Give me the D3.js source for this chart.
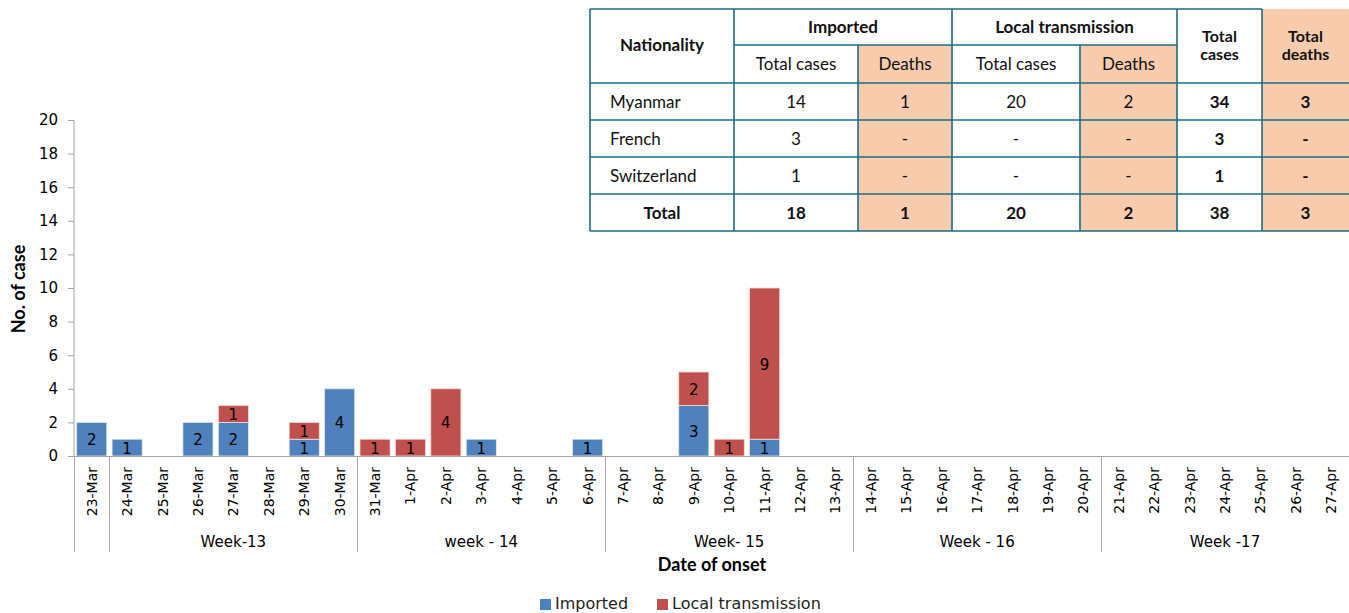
<!DOCTYPE html>
<html>
<head>
<meta charset="utf-8">
<script src="https://cdn.jsdelivr.net/npm/d3@7"></script>
<style>
  html, body { margin: 0; padding: 0; background: #fff; overflow: hidden; }
  svg { display: block; }
  .tick text, .daylbl, .weeklbl, .barlbl, .legend text { font-family: "DejaVu Sans", Verdana, sans-serif; }
  .tbl text { font-family: Lato, "Open Sans", sans-serif; }
</style>
</head>
<body>
<svg id="chart" width="1349" height="613"></svg>
<script>
// epi curve: onset dates, imported vs local cases per day
const dates = ["23-Mar","24-Mar","25-Mar","26-Mar","27-Mar","28-Mar","29-Mar","30-Mar",
  "31-Mar","1-Apr","2-Apr","3-Apr","4-Apr","5-Apr","6-Apr",
  "7-Apr","8-Apr","9-Apr","10-Apr","11-Apr","12-Apr","13-Apr",
  "14-Apr","15-Apr","16-Apr","17-Apr","18-Apr","19-Apr","20-Apr",
  "21-Apr","22-Apr","23-Apr","24-Apr","25-Apr","26-Apr","27-Apr"];
const imported = [2,1,0,2,2,0,1,4, 0,0,0,1,0,0,1, 0,0,3,0,1,0,0, 0,0,0,0,0,0,0, 0,0,0,0,0,0,0];
const local    = [0,0,0,0,1,0,1,0, 1,1,4,0,0,0,0, 0,0,2,1,9,0,0, 0,0,0,0,0,0,0, 0,0,0,0,0,0,0];
const yTicks = [0,2,4,6,8,10,12,14,16,18,20];

// week groups: [label, first date index, number of days]
const weeks = [["", 0, 1], ["Week-13", 1, 7], ["week - 14", 8, 7], ["Week- 15", 15, 7],
  ["Week - 16", 22, 7], ["Week -17", 29, 7]];

// summary table
const tblCols = ["Imported total cases", "Imported deaths", "Local total cases", "Local deaths", "Total cases", "Total deaths"];
const tblRows = ["Myanmar", "French", "Switzerland", "Total"];
const tblValues = [
  ["14", "1", "20", "2", "34", "3"],
  ["3", "-", "-", "-", "3", "-"],
  ["1", "-", "-", "-", "1", "-"],
  ["18", "1", "20", "2", "38", "3"],
];

const BLUE = "#4f81bd", RED = "#c0504d", AXIS = "#a6a6a6";
const PEACH = "#f8cbad", TEAL = "#1b6b86";

const svg = d3.select("#chart");

const x = d3.scaleBand().domain(dates).range([74, 1349]).paddingInner(0.15).paddingOuter(0.075);
const y = d3.scaleLinear().domain([0, 20]).range([456, 120]);
const step = x.step();
const edge = i => i === 0 ? 74 : x(dates[i]) - (step - x.bandwidth()) / 2;

// ── y axis ──
const yAxis = svg.append("g").attr("transform", "translate(74,0)")
  .call(d3.axisLeft(y).tickValues(yTicks).tickSize(6).tickPadding(10));
yAxis.selectAll("path, line").attr("stroke", AXIS);
yAxis.select(".domain").attr("d", "M0,120V456");
yAxis.selectAll("text").attr("font-size", 15).attr("fill", "#000");

svg.append("text").attr("transform", "translate(25,289) rotate(-90)")
  .attr("text-anchor", "middle").attr("font-family", "Lato, sans-serif")
  .attr("font-weight", "bold").attr("font-size", 18).text("No. of case");

// ── bars ──
const stack = dates.map((d, i) => ({ d, imp: imported[i], loc: local[i] }));
const g = svg.append("g");
g.selectAll("rect.imp").data(stack.filter(s => s.imp > 0)).join("rect")
  .attr("x", s => x(s.d)).attr("width", x.bandwidth())
  .attr("y", s => y(s.imp)).attr("height", s => y(0) - y(s.imp))
  .attr("fill", BLUE).attr("stroke", "#dfe8f3").attr("stroke-width", 0.8);
g.selectAll("rect.loc").data(stack.filter(s => s.loc > 0)).join("rect")
  .attr("x", s => x(s.d)).attr("width", x.bandwidth())
  .attr("y", s => y(s.imp + s.loc)).attr("height", s => y(s.imp) - y(s.imp + s.loc))
  .attr("fill", RED).attr("stroke", "#f3dcdc").attr("stroke-width", 0.8);

g.selectAll("text.bi").data(stack.filter(s => s.imp > 0)).join("text")
  .attr("class", "barlbl").attr("text-anchor", "middle").attr("font-size", 15)
  .attr("x", s => x(s.d) + x.bandwidth() / 2)
  .attr("y", s => (y(0) + y(s.imp)) / 2 + 6).text(s => s.imp);
g.selectAll("text.bl").data(stack.filter(s => s.loc > 0)).join("text")
  .attr("class", "barlbl").attr("text-anchor", "middle").attr("font-size", 15)
  .attr("x", s => x(s.d) + x.bandwidth() / 2)
  .attr("y", s => (y(s.imp) + y(s.imp + s.loc)) / 2 + 6).text(s => s.loc);

// ── x axis (two levels) ──
svg.append("line").attr("x1", 74).attr("x2", 1349).attr("y1", 456.5).attr("y2", 456.5)
  .attr("stroke", AXIS);
svg.selectAll("text.daylbl").data(dates).join("text").attr("class", "daylbl")
  .attr("transform", d => `translate(${x(d) + x.bandwidth() / 2 + 5},467) rotate(-90)`)
  .attr("text-anchor", "end").attr("font-size", 14).text(d => d);

const seps = weeks.map(w => edge(w[1])).concat([1349]);
svg.selectAll("line.sep").data(seps).join("line")
  .attr("x1", d => Math.round(d) + 0.5).attr("x2", d => Math.round(d) + 0.5)
  .attr("y1", 456).attr("y2", 552).attr("stroke", AXIS);
svg.selectAll("text.weeklbl").data(weeks).join("text").attr("class", "weeklbl")
  .attr("x", w => (edge(w[1]) + (w[1] + w[2] < dates.length ? edge(w[1] + w[2]) : 1349)) / 2)
  .attr("y", 547).attr("text-anchor", "middle").attr("font-size", 15).text(w => w[0]);

svg.append("text").attr("x", 712).attr("y", 571).attr("text-anchor", "middle")
  .attr("font-family", "Lato, sans-serif").attr("font-weight", "bold").attr("font-size", 18)
  .text("Date of onset");

// ── legend ──
const legend = svg.append("g").attr("class", "legend");
[["Imported", BLUE, 540], ["Local transmission", RED, 657]].forEach(([t, c, lx]) => {
  legend.append("rect").attr("x", lx).attr("y", 599).attr("width", 11).attr("height", 11).attr("fill", c);
  legend.append("text").attr("x", lx + 15).attr("y", 609).attr("font-size", 16).attr("fill", "#222").text(t);
});

// ── summary table ──
const colX = [590, 734, 858, 952, 1080, 1177, 1262, 1349];
const rowY = [9, 45, 83, 120, 157, 194, 231];
const tbl = svg.append("g").attr("class", "tbl");
const peachCols = [2, 4];
peachCols.forEach(c => tbl.append("rect").attr("x", colX[c]).attr("y", rowY[1])
  .attr("width", colX[c + 1] - colX[c]).attr("height", rowY[6] - rowY[1]).attr("fill", PEACH));
tbl.append("rect").attr("x", colX[6]).attr("y", rowY[0])
  .attr("width", colX[7] - colX[6]).attr("height", rowY[6] - rowY[0]).attr("fill", PEACH);

const ln = (x1, y1, x2, y2) => tbl.append("line").attr("x1", x1).attr("y1", y1)
  .attr("x2", x2).attr("y2", y2).attr("stroke", TEAL).attr("stroke-width", 1.6);
ln(colX[0], rowY[0], colX[6], rowY[0]);
ln(colX[1], rowY[1], colX[5], rowY[1]);
[2, 3, 4, 5, 6].forEach(r => ln(colX[0], rowY[r], colX[7], rowY[r]));
ln(colX[0], rowY[0], colX[0], rowY[6]);
[1, 5, 6].forEach(c => ln(colX[c], rowY[0], colX[c], rowY[6]));
[2, 3, 4].forEach(c => ln(colX[c], c === 3 ? rowY[0] : rowY[1], colX[c], rowY[6]));

const tx = (t, cx, cy, bold, anchor, size) => tbl.append("text").attr("x", cx).attr("y", cy)
  .attr("text-anchor", anchor || "middle").attr("font-size", size || 17)
  .attr("font-weight", bold ? "bold" : "normal").attr("fill", "#111").text(t);
const mid = c => (colX[c] + colX[c + 1]) / 2;
tx("Nationality", mid(0), 51, true);
tx("Imported", (colX[1] + colX[3]) / 2, 33, true);
tx("Local transmission", (colX[3] + colX[5]) / 2, 33, true);
// two-line headers
[["Total", "cases"], ["Total", "deaths"]].forEach(([a, b], i) => {
  tx(a, mid(5 + i), 42, true, null, 16);
  tx(b, mid(5 + i), 60, true, null, 16);
});
["Total cases", "Deaths", "Total cases", "Deaths"].forEach((t, i) => tx(t, mid(i + 1), 70));

tblRows.forEach((r, ri) => {
  const cy = (rowY[ri + 2] + rowY[ri + 3]) / 2 + 6;
  const isTotal = r === "Total";
  if (isTotal) tx(r, mid(0), cy, true);
  else tx(r, 610, cy, false, "start");
  tblValues[ri].forEach((v, ci) => tx(v, mid(ci + 1), cy, isTotal || ci >= 4));
});
</script>
</body>
</html>
